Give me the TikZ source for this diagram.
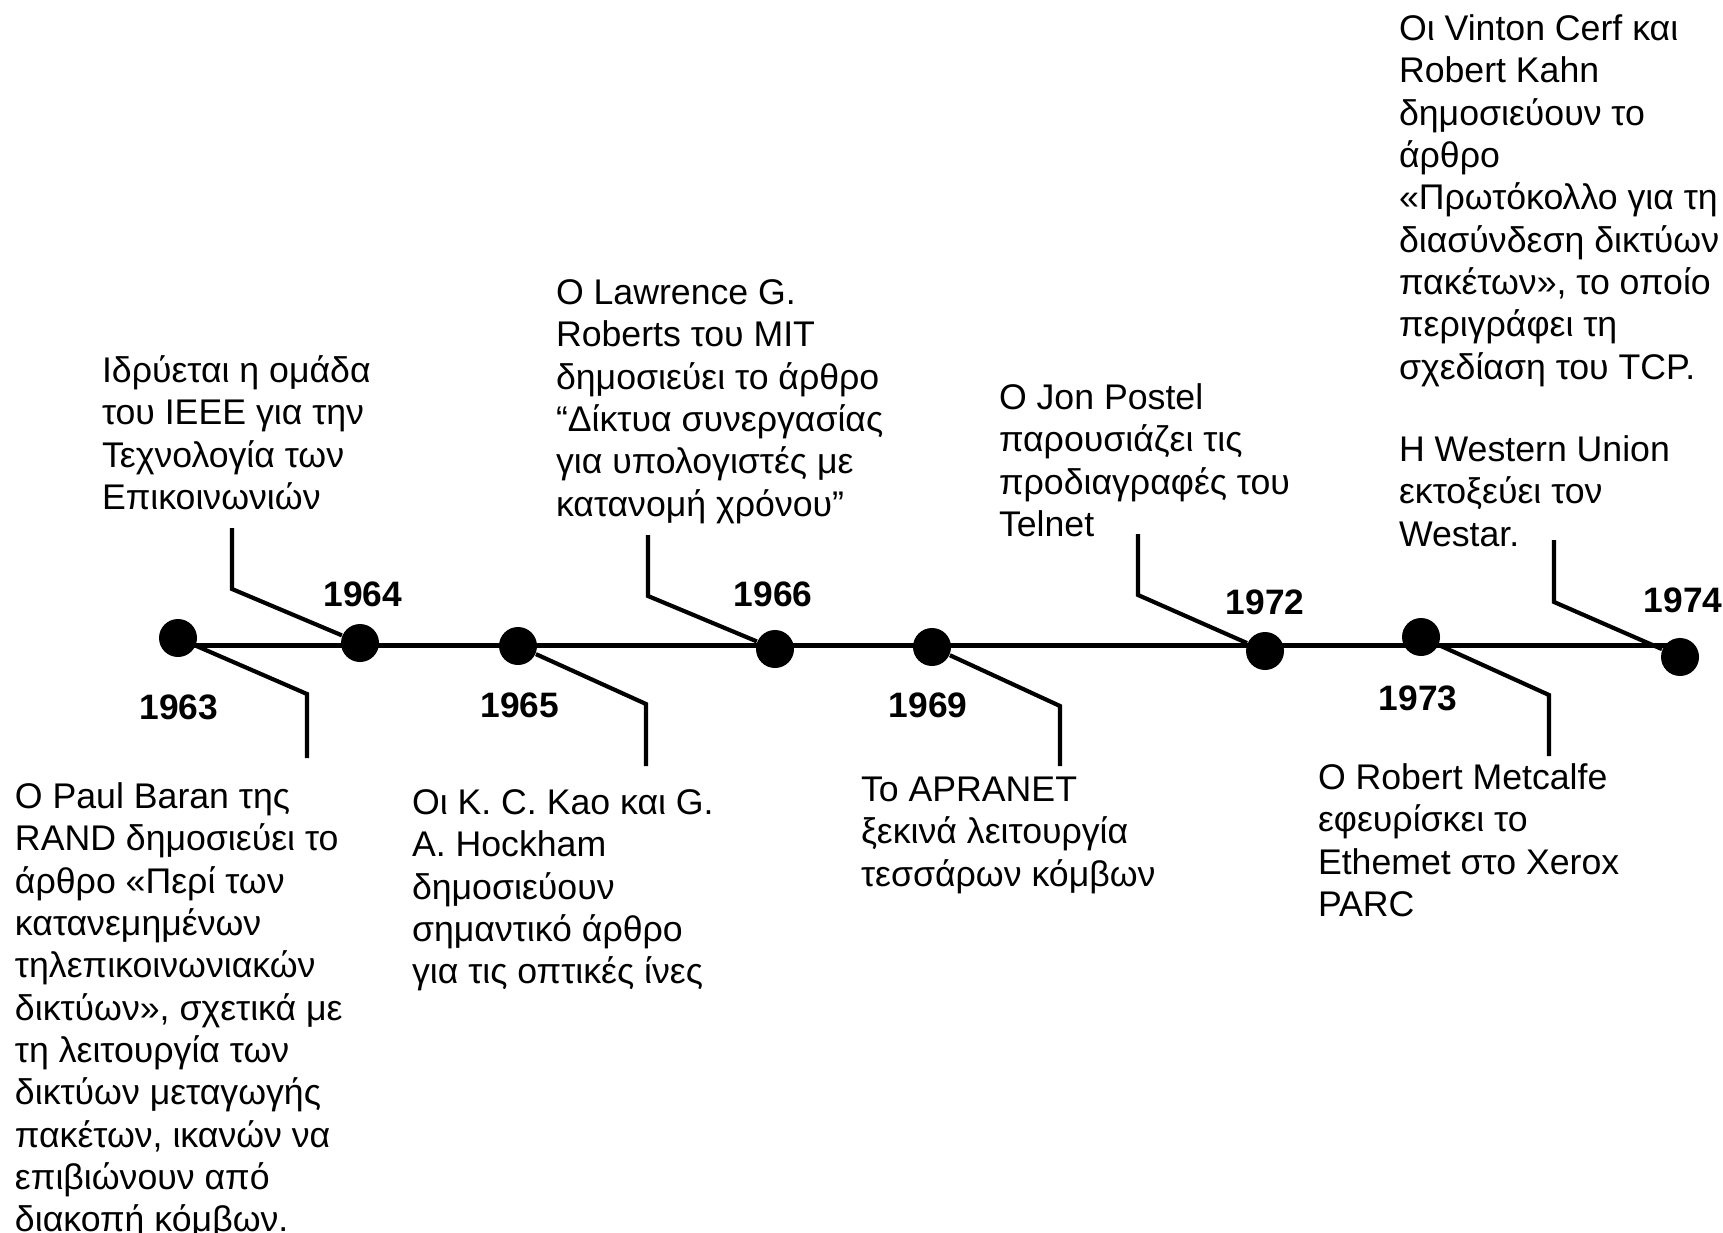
\documentclass[tikz,border=0pt]{standalone}
\usepackage{fontspec}
\setmainfont{Liberation Sans}
\begin{document}
\begin{tikzpicture}[x=0.3pt,y=-0.3pt,
  evt/.style={anchor=north west,inner sep=0pt,outer sep=0pt,align=left,
    font=\fontsize{10.7}{12.7}\selectfont},
  yr/.style={inner sep=0pt,font=\fontsize{10.6}{12}\selectfont\bfseries},
  yeardot/.style={circle,fill=black,inner sep=0pt,minimum size=11.4pt},
  mainline/.style={line width=1.5pt},
  leader/.style={line width=1.25pt,line join=miter}]
\useasboundingbox (0,0) rectangle (1723,1232);

% time axis
\coordinate (axisL) at (178,645);
\coordinate (axisR) at (1680,645);
\draw[mainline] (axisL) -- (axisR);

% year dots
\node[yeardot] (d1963) at (178,638) {};
\node[yeardot] (d1964) at (360,643) {};
\node[yeardot] (d1965) at (518,646) {};
\node[yeardot] (d1966) at (775,649) {};
\node[yeardot] (d1969) at (932,647) {};
\node[yeardot] (d1972) at (1265,651) {};
\node[yeardot] (d1973) at (1421,637) {};
\node[yeardot] (d1974) at (1680,657) {};

% year labels
\node[yr] (y1963) at (179,707) {1963};
\node[yr] (y1964) at (363,594) {1964};
\node[yr] (y1965) at (520,705) {1965};
\node[yr] (y1966) at (773,594) {1966};
\node[yr] (y1969) at (928,705) {1969};
\node[yr] (y1972) at (1265,602) {1972};
\node[yr] (y1973) at (1418,698) {1973};
\node[yr] (y1974) at (1683,600) {1974};

% leader lines: bends and free ends
\coordinate (k1963) at (307,694);  \coordinate (e1963) at (307,758);
\coordinate (t1964) at (232,528);  \coordinate (k1964) at (232,589);
\coordinate (k1965) at (646,704);  \coordinate (e1965) at (646,766);
\coordinate (t1966) at (648,535);  \coordinate (k1966) at (648,596);
\coordinate (k1969) at (1060,706); \coordinate (e1969) at (1060,766);
\coordinate (t1972) at (1138,534); \coordinate (k1972) at (1138,595);
\coordinate (k1973) at (1549,695); \coordinate (e1973) at (1549,756);
\coordinate (t1974) at (1554,540); \coordinate (k1974) at (1554,602);

\draw[leader] (d1963) -- (k1963) -- (e1963);
\draw[leader] (t1964) -- (k1964) -- (d1964);
\draw[leader] (d1965) -- (k1965) -- (e1965);
\draw[leader] (t1966) -- (k1966) -- (d1966);
\draw[leader] (d1969) -- (k1969) -- (e1969);
\draw[leader] (t1972) -- (k1972) -- (d1972);
\draw[leader] (d1973) -- (k1973) -- (e1973);
\draw[leader] (t1974) -- (k1974) -- (d1974);

% event texts
\node[evt] (baran) at (15,779) {\strut Ο Paul Baran της\\
RAND δημοσιεύει το\\
άρθρο «Περί των\\
κατανεμημένων\\
τηλεπικοινωνιακών\\
δικτύων», σχετικά με\\
τη λειτουργία των\\
δικτύων μεταγωγής\\
πακέτων, ικανών να\\
επιβιώνουν από\\
διακοπή κόμβων.};

\node[evt] (ieee) at (102,353) {\strut Ιδρύεται η ομάδα\\
του IEEE για την\\
Τεχνολογία των\\
Επικοινωνιών};

\node[evt] (roberts) at (556,275) {\strut Ο Lawrence G.\\
Roberts του MIT\\
δημοσιεύει το άρθρο\\
“Δίκτυα συνεργασίας\\
για υπολογιστές με\\
κατανομή χρόνου”};

\node[evt] (kao) at (412,785) {\strut Οι K. C. Kao και G.\\
A. Hockham\\
δημοσιεύουν\\
σημαντικό άρθρο\\
για τις οπτικές ίνες};

\node[evt] (arpanet) at (861,772) {\strut Το APRANET\\
ξεκινά λειτουργία\\
τεσσάρων κόμβων};

\node[evt] (postel) at (999,380) {\strut Ο Jon Postel\\
παρουσιάζει τις\\
προδιαγραφές του\\
Telnet};

\node[evt] (metcalfe) at (1318,760) {\strut Ο Robert Metcalfe\\
εφευρίσκει το\\
Ethemet στο Xerox\\
PARC};

\node[evt] (cerf) at (1399,11) {\strut Οι Vinton Cerf και\\
Robert Kahn\\
δημοσιεύουν το\\
άρθρο\\
«Πρωτόκολλο για τη\\
διασύνδεση δικτύων\\
πακέτων», το οποίο\\
περιγράφει τη\\
σχεδίαση του TCP.};

\node[evt] (westar) at (1399,432) {\strut Η Western Union\\
εκτοξεύει τον\\
Westar.};
\end{tikzpicture}
\end{document}
